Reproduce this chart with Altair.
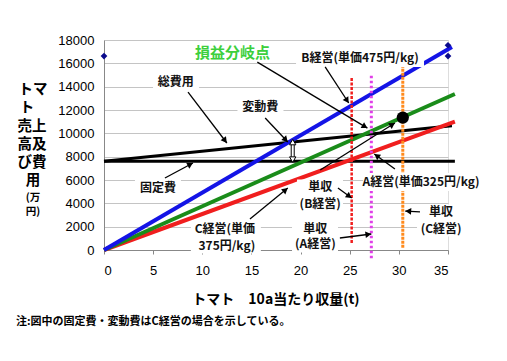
import math
import altair as alt
import pandas as pd

W, H = 344, 210
X_MAX, Y_MAX = 35, 18000
FONT = "Noto Sans CJK JP"

# ---- data ----
# revenue lines (t = yield per 10a, value on y axis)
b_t = [0, 35.4]
b_val = [0, 17400]
c_t = [0, 35.7]
c_val = [0, 13370]
a_t = [0, 35.7]
a_val = [0, 11000]
# cost lines
total_t = [0, 35.4]
total_val = [7600, 10650]
fixed_t = [0, 35.7]
fixed_val = [7600, 7600]

# yield (単収) vertical lines
yield_keys = ["B", "A", "C"]
yield_x = [25.2, 27.2, 30.4]
yield_lo = [600, -700, 200]
yield_hi = [14800, 15000, 16400]

dot_t = [30.4]
dot_v = [11350]
diam_t = [0, 35, 35]
diam_v = [16625, 16625, 17550]

x_ticks = [0, 5, 10, 15, 20, 25, 30, 35]
y_ticks = [0, 2000, 4000, 6000, 8000, 10000, 12000, 14000, 16000, 18000]

# annotation arrows: start t, start v, end t, end v
arr_t1 = [15.6, 22.5, 8.55, 16.4, 6.2, 29.6, 23.8, 24.0, 32.15, 14.85, 22.0]
arr_v1 = [16100, 15690, 13540, 11310, 6170, 6940, 5310, 1030, 3260, 2660, 6860]
arr_t2 = [26.8, 24.9, 12.5, 18.7, 9.05, 27.5, 25.2, 27.2, 30.65, 18.7, 29.6]
arr_v2 = [10450, 12600, 9170, 9260, 7460, 8230, 4460, 1370, 3340, 5310, 10890]

# labels in the plot
lab_text = ["B経営(単価475円/kg)", "総費用", "変動費", "固定費", "A経営(単価325円/kg)",
            "単収", "(B経営)", "単収", "(A経営)", "単収", "(C経営)",
            "C経営(単価", "375円/kg)"]
lab_t = [26.05, 7.3, 15.9, 5.5, 32.25, 22.0, 22.0, 21.5, 21.5, 34.3, 34.3, 12.3, 12.5]
lab_v = [16460, 14400, 12260, 5310, 5830, 5380, 3960, 1780, 530, 3240, 1820, 1780, 360]

# white boxes behind labels: centre (t, v), size in px
box_t = [13.07, 26.05, 7.33, 15.92, 5.49, 32.25, 21.98, 21.47, 34.29, 12.4]
box_v = [16890, 16460, 14400, 12260, 5310, 5830, 4670, 1160, 2530, 1070]
box_w = [84, 128, 46, 46, 46, 116, 46, 46, 48, 70]
box_h = [20, 18, 18, 18, 18, 18, 32, 32, 32, 32]

PX_T = W / X_MAX
PX_V = H / Y_MAX

xs = alt.Scale(domain=[0, X_MAX], nice=False, zero=True)
ys = alt.Scale(domain=[0, Y_MAX], nice=False, zero=True)
x_axis = alt.Axis(values=x_ticks, title=None, grid=False, labelFont="Liberation Sans",
                  labelFontSize=13, labelColor="#000", ticks=True, tickSize=4,
                  tickColor="#888", domainColor="#888", labelPadding=10, format="d")
y_axis = alt.Axis(values=y_ticks, title=None, grid=True, gridColor="#c4c4c4",
                  labelFont="Liberation Sans", labelFontSize=13, labelColor="#000",
                  ticks=False, domainColor="#888", labelPadding=10, format="d")


def X(f, **kw):
    return alt.X(f, type="quantitative", scale=xs, axis=x_axis, **kw)


def Y(f, **kw):
    return alt.Y(f, type="quantitative", scale=ys, axis=y_axis, **kw)


def line_layer(ts, vs, color, width, dash=None):
    df = pd.DataFrame({"t": ts, "v": vs})
    kw = dict(color=color, strokeWidth=width, clip=False)
    if dash:
        kw["strokeDash"] = dash
    return alt.Chart(df).mark_line(**kw).encode(x=X("t"), y=Y("v"))


fixed_l = line_layer(fixed_t, fixed_val, "#000000", 3)
total_l = line_layer(total_t, total_val, "#000000", 3)
red_l = line_layer(a_t, a_val, "#f01e1e", 4)
green_l = line_layer(c_t, c_val, "#1a8c1a", 4)
blue_l = line_layer(b_t, b_val, "#1414e6", 4)

yield_df = pd.DataFrame({"k": yield_keys, "t": yield_x, "lo": yield_lo, "hi": yield_hi})
yl_styles = {"B": ("#f01e1e", 2.5, [3, 1.5]), "A": ("#e040e8", 3, [2.5, 2.5]),
             "C": ("#ff8a1c", 3, [3, 1])}
yield_layers = []
for k, (col, w, dash) in yl_styles.items():
    yield_layers.append(
        alt.Chart(yield_df).transform_filter(alt.datum.k == k)
        .mark_rule(color=col, strokeWidth=w, strokeDash=dash, clip=False)
        .encode(x=X("t"), y=Y("lo"), y2="hi")
    )

# white label boxes
bx = pd.DataFrame({"t": box_t, "v": box_v, "w": box_w, "h": box_h})
bx["x1"] = bx["t"] - bx["w"] / 2 / PX_T
bx["x2"] = bx["t"] + bx["w"] / 2 / PX_T
bx["y1"] = bx["v"] - bx["h"] / 2 / PX_V
bx["y2"] = bx["v"] + bx["h"] / 2 / PX_V
boxes = alt.Chart(bx).mark_rect(color="white", clip=False).encode(
    x=X("x1"), x2="x2", y=Y("y1"), y2="y2")

# arrows
ar = pd.DataFrame({"t1": arr_t1, "v1": arr_v1, "t2": arr_t2, "v2": arr_v2})
angles, ht, hv = [], [], []
for t1, v1, t2, v2 in zip(arr_t1, arr_v1, arr_t2, arr_v2):
    dx = (t2 - t1) * PX_T
    dy = (v2 - v1) * PX_V
    ln = math.hypot(dx, dy)
    angles.append(math.degrees(math.atan2(dx, dy)) % 360)
    ht.append(t2 - 3 * dx / ln / PX_T)
    hv.append(v2 - 3 * dy / ln / PX_V)
ar["ang"] = angles
ar["ht"] = ht
ar["hv"] = hv
arrow_lines = alt.Chart(ar).mark_rule(color="#000", strokeWidth=1.3, clip=False).encode(
    x=X("t1"), y=Y("v1"), x2="t2", y2="v2")
arrow_heads = alt.Chart(ar).mark_point(shape="triangle-up", filled=True, color="#000",
                                        size=45, opacity=1, clip=False).encode(
    x=X("ht"), y=Y("hv"), angle=alt.Angle("ang:Q", scale=None))

# double arrow (variable cost)
dbl_t = [19.2]
dbl_lo = [7750]
dbl_hi = [9250]
dbl = pd.DataFrame({"t": dbl_t, "lo": dbl_lo, "hi": dbl_hi})
dbl_black = alt.Chart(dbl).mark_rule(color="#000", strokeWidth=4).encode(
    x=X("t"), y=Y("lo"), y2="hi")
dbl_white = alt.Chart(dbl).mark_rule(color="#fff", strokeWidth=2).encode(
    x=X("t"), y=Y("lo"), y2="hi")
dbl_top = alt.Chart(dbl).mark_point(shape="triangle-up", filled=True, fill="#fff",
                                     stroke="#000", strokeWidth=1, size=40, opacity=1).encode(
    x=X("t"), y=Y("hi"))
dbl_bot = alt.Chart(dbl).mark_point(shape="triangle-down", filled=True, fill="#fff",
                                     stroke="#000", strokeWidth=1, size=40, opacity=1).encode(
    x=X("t"), y=Y("lo"))

dot = alt.Chart(pd.DataFrame({"t": dot_t, "v": dot_v})).mark_circle(
    color="#000", size=150, opacity=1).encode(x=X("t"), y=Y("v"))
diam = alt.Chart(pd.DataFrame({"t": diam_t, "v": diam_v})).mark_point(
    shape="diamond", filled=True, color="#0a0a8c", size=45, opacity=1, clip=False).encode(
    x=X("t"), y=Y("v"))

labels = alt.Chart(pd.DataFrame({"txt": lab_text, "t": lab_t, "v": lab_v})).mark_text(
    font=FONT, fontSize=12, fontWeight="bold", color="#111", clip=False).encode(
    x=X("t"), y=Y("v"), text="txt:N")

title_green = alt.Chart(pd.DataFrame({"txt": ["損益分岐点"], "t": [13.07], "v": [16890]})).mark_text(
    font=FONT, fontSize=15, fontWeight="bold", color="#3ccf3c").encode(
    x=X("t"), y=Y("v"), text="txt:N")

# y-axis title (stacked), x-axis title and note, positioned in pixels
ytitle_txt = ["トマ", "ト", "売上", "高及", "び費", "用", "(万", "円)"]
ytitle_px = [-71, -77, -72, -72, -72, -71, -71, -71]
ytitle_py = [50, 68, 87, 105, 123, 141, 158, 172]
ytitle_fs = [14.5, 14.5, 14.5, 14.5, 14.5, 14.5, 10.5, 10.5]
yt = alt.Chart(pd.DataFrame({"txt": ytitle_txt, "px": ytitle_px, "py": ytitle_py,
                             "fs": ytitle_fs})).mark_text(
    font=FONT, fontWeight="bold", color="#000").encode(
    x=alt.X("px:Q", scale=None, axis=None), y=alt.Y("py:Q", scale=None, axis=None),
    text="txt:N", size=alt.Size("fs:Q", scale=None, legend=None))

xt = alt.Chart(pd.DataFrame({"txt": ["トマト　10a当たり収量(t)"], "px": [172], "py": [260]})).mark_text(
    font=FONT, fontSize=14, fontWeight="bold", color="#000").encode(
    x=alt.X("px:Q", scale=None, axis=None), y=alt.Y("py:Q", scale=None, axis=None),
    text="txt:N")

note = alt.Chart(pd.DataFrame({"txt": ["注:図中の固定費・変動費はC経営の場合を示している。"],
                               "px": [-88], "py": [282]})).mark_text(
    font=FONT, fontSize=11, fontWeight="bold", color="#000", align="left").encode(
    x=alt.X("px:Q", scale=None, axis=None), y=alt.Y("py:Q", scale=None, axis=None),
    text="txt:N")

chart = alt.layer(
    fixed_l, total_l, red_l, green_l, blue_l, *yield_layers,
    boxes, dbl_black, dbl_white, dbl_top, dbl_bot, arrow_lines, arrow_heads,
    dot, diam, labels, title_green, yt, xt, note,
).properties(
    width=W, height=H,
    autosize=alt.AutoSizeParams(type="none"),
    padding={"left": 96, "top": 32, "right": 51, "bottom": 103},
).configure_view(stroke="#888", strokeWidth=1).configure(background="white")

chart.save("out.html", embed_options={"renderer": "svg", "actions": False})
